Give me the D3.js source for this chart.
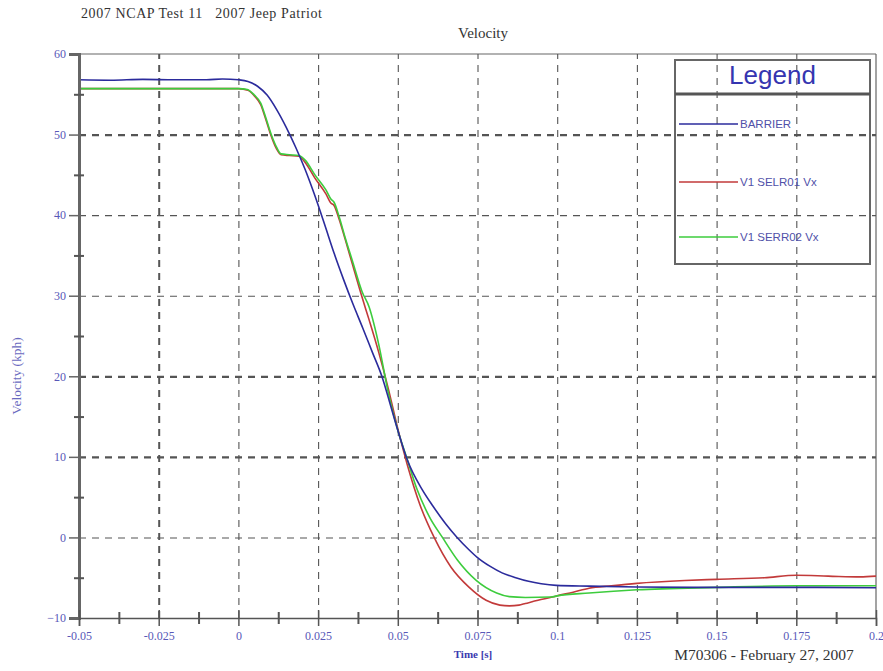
<!DOCTYPE html>
<html>
<head>
<meta charset="utf-8">
<script src="https://cdn.jsdelivr.net/npm/d3@7"></script>
<style>
	body { margin: 0; background: #fff; }
	svg { display: block; }
	.tick text { font-family: 'Liberation Serif', serif; font-size: 12px; fill: #5858b8; }
	.grid line { stroke: #555; stroke-dasharray: 7 6; }
	.grid path { display: none; }
</style>
</head>
<body>
<svg id="chart" width="883" height="671"></svg>
<script>
// x domain in seconds, y domain in kph
const xTicks = [-0.05, -0.025, 0, 0.025, 0.05, 0.075, 0.1, 0.125, 0.15, 0.175, 0.2];
const xMinor = [-0.0375, -0.0125, 0.0125, 0.0375, 0.0625, 0.0875, 0.1125, 0.1375, 0.1625, 0.1875];
const yTicks = [-10, 0, 10, 20, 30, 40, 50, 60];
const yMinor = [-5, 5, 15, 25, 35, 45, 55];
const boldGrid = [50, 20, 10];

const seriesNames = ['BARRIER', 'V1 SELR01 Vx', 'V1 SERR02 Vx'];
const seriesColors = ['#2b2b9c', '#c23a3a', '#3dcc3d'];

const barrier = [
	[-0.05, 56.8], [-0.04, 56.75], [-0.03, 56.85], [-0.02, 56.8], [-0.01, 56.8], [-0.005, 56.9],
	[0, 56.8], [0.003, 56.6], [0.006, 56.0], [0.009, 54.9], [0.012, 53.1], [0.015, 50.9],
	[0.018, 48.4], [0.021, 45.6], [0.024, 42.4], [0.027, 38.9], [0.03, 35.3], [0.033, 32.0],
	[0.036, 28.9], [0.039, 26.0], [0.042, 23.0], [0.045, 20.0], [0.048, 16.0], [0.05, 13.3],
	[0.053, 9.6], [0.0577, 5.9], [0.061, 3.9], [0.065, 1.7], [0.0686, 0.0], [0.072, -1.4],
	[0.075, -2.5], [0.079, -3.6], [0.0827, -4.4], [0.087, -5.0], [0.091, -5.45], [0.095, -5.75],
	[0.0997, -5.95], [0.11, -6.05], [0.125, -6.15], [0.15, -6.2], [0.175, -6.2], [0.2, -6.25]
];

const selr01 = [
	[-0.05, 55.7], [-0.03, 55.7], [-0.01, 55.7], [0, 55.7], [0.003, 55.5], [0.005, 54.8],
	[0.007, 53.7], [0.0085, 52.0], [0.0103, 49.8], [0.012, 48.2], [0.0134, 47.5], [0.016, 47.4],
	[0.019, 47.3], [0.021, 46.5], [0.024, 44.6], [0.0275, 42.6], [0.029, 41.5], [0.03, 41.2],
	[0.0316, 39.5], [0.0335, 37.0], [0.0357, 34.0], [0.0388, 29.8], [0.041, 27.0], [0.044, 23.0],
	[0.047, 18.5], [0.05, 13.5], [0.053, 9.0], [0.057, 4.0], [0.0614, 0.0], [0.0667, -3.7],
	[0.0724, -6.2], [0.0777, -7.8], [0.082, -8.4], [0.085, -8.5], [0.088, -8.4], [0.09, -8.2],
	[0.094, -7.8], [0.0985, -7.4], [0.1, -7.25], [0.105, -6.8], [0.11, -6.3], [0.117, -6.0],
	[0.125, -5.7], [0.14, -5.35], [0.15, -5.2], [0.165, -5.0], [0.175, -4.7], [0.185, -4.8],
	[0.195, -4.9], [0.2, -4.8]
];

const serr02 = [
	[-0.05, 55.7], [-0.03, 55.7], [-0.01, 55.7], [0, 55.7], [0.0028, 55.6], [0.005, 54.9],
	[0.007, 53.9], [0.0085, 52.2], [0.0103, 50.0], [0.012, 48.4], [0.0134, 47.6], [0.016, 47.5],
	[0.019, 47.4], [0.021, 46.8], [0.024, 45.0], [0.0275, 43.1], [0.029, 42.0], [0.03, 41.6],
	[0.0316, 39.8], [0.0335, 37.2], [0.0357, 34.4], [0.0388, 30.5], [0.041, 28.6], [0.044, 24.0],
	[0.047, 18.0], [0.05, 13.3], [0.0527, 10.0], [0.056, 6.0], [0.06, 2.5], [0.064, 0.0],
	[0.0687, -2.8], [0.0745, -5.3], [0.081, -6.9], [0.085, -7.35], [0.09, -7.45], [0.098, -7.4],
	[0.1, -7.25], [0.11, -6.9], [0.125, -6.5], [0.15, -6.2], [0.175, -6.0], [0.2, -6.0]
];

const margin = { top: 54, right: 7, bottom: 53, left: 79 };
const W = 883;
const H = 671;
const width = W - margin.left - margin.right;
const height = H - margin.top - margin.bottom;

const svg = d3.select('#chart');

const x = d3.scaleLinear().domain([-0.05, 0.2]).range([0, width]);
const y = d3.scaleLinear().domain([-10, 60]).range([height, 0]);

const g = svg.append('g').attr('transform', `translate(${margin.left},${margin.top})`);

// frame
g.append('line').attr('x1', 0).attr('x2', width).attr('y1', 0).attr('y2', 0)
	.attr('stroke', '#666').attr('stroke-width', 1.2);
g.append('line').attr('x1', width).attr('x2', width).attr('y1', 0).attr('y2', height)
	.attr('stroke', '#666').attr('stroke-width', 1.2);

// grid
g.append('g').attr('class', 'grid')
	.call(d3.axisLeft(y).tickValues(yTicks.filter(d => d > -10 && d < 60)).tickSize(-width).tickFormat(''))
	.selectAll('line')
	.attr('stroke-width', d => (boldGrid.includes(d) ? 2.2 : 1.1));

g.append('g').attr('class', 'grid')
	.attr('transform', `translate(0,${height})`)
	.call(d3.axisBottom(x).tickValues(xTicks.filter(d => d > -0.05 && d < 0.2)).tickSize(-height).tickFormat(''))
	.selectAll('line')
	.attr('stroke-width', d => (d === -0.025 ? 2 : 1.1));

// series
const line = d3.line()
	.x(d => x(d[0]))
	.y(d => y(d[1]))
	.curve(d3.curveMonotoneX);

const series = [barrier, selr01, serr02];
[1, 2, 0].forEach(i => {
	g.append('path')
		.datum(series[i])
		.attr('fill', 'none')
		.attr('stroke', seriesColors[i])
		.attr('stroke-width', 1.6)
		.attr('d', line);
});

// axes
const yAxis = g.append('g')
	.call(d3.axisLeft(y).tickValues(yTicks).tickSize(10).tickPadding(3).tickFormat(d3.format('d')));
yAxis.select('.domain').attr('stroke', '#666').attr('stroke-width', 3);
yAxis.selectAll('.tick line').attr('stroke', '#666').attr('stroke-width', 1.5);

g.append('g')
	.attr('transform', 'translate(5,0)')
	.call(d3.axisLeft(y).tickValues(yMinor).tickSize(10).tickFormat(''))
	.call(a => a.select('.domain').remove())
	.selectAll('line').attr('stroke', '#555').attr('stroke-width', 2);

const xAxis = g.append('g')
	.attr('transform', `translate(0,${height})`)
	.call(d3.axisBottom(x).tickValues(xTicks).tickSize(8).tickPadding(5).tickFormat(d => `${d}`));
xAxis.select('.domain').attr('stroke', '#555').attr('stroke-width', 1.5);
xAxis.selectAll('.tick line').attr('stroke', '#555').attr('stroke-width', 1.5)
	.attr('y1', -8);

g.append('g')
	.attr('transform', `translate(0,${height - 6})`)
	.call(d3.axisBottom(x).tickValues(xMinor).tickSize(12).tickFormat(''))
	.call(a => a.select('.domain').remove())
	.selectAll('line').attr('stroke', '#555').attr('stroke-width', 2);

// titles
svg.append('text').attr('x', 81).attr('y', 18)
	.attr('font-family', 'Liberation Serif, serif').attr('font-size', 14).attr('fill', '#333')
	.attr('letter-spacing', 0.6)
	.attr('xml:space', 'preserve')
	.text('2007 NCAP Test 11   2007 Jeep Patriot');

svg.append('text').attr('x', 483).attr('y', 38).attr('text-anchor', 'middle')
	.attr('font-family', 'Liberation Serif, serif').attr('font-size', 15).attr('fill', '#333')
	.text('Velocity');

svg.append('text')
	.attr('transform', 'translate(21,376) rotate(-90)')
	.attr('text-anchor', 'middle')
	.attr('font-family', 'Liberation Serif, serif').attr('font-size', 13.5).attr('fill', '#6a6ac0')
	.text('Velocity (kph)');

svg.append('text').attr('x', 473).attr('y', 658).attr('text-anchor', 'middle')
	.attr('font-family', 'Liberation Serif, serif').attr('font-size', 11).attr('font-weight', 'bold')
	.attr('fill', '#3a3ab0')
	.text('Time [s]');

svg.append('text').attr('x', 764).attr('y', 660).attr('text-anchor', 'middle')
	.attr('font-family', 'Liberation Serif, serif').attr('font-size', 15.5).attr('fill', '#333')
	.text('M70306 - February 27, 2007');

// legend
const lg = svg.append('g').attr('transform', 'translate(675,60)');
const lgW = 195;
const lgH = 204;
lg.append('rect').attr('width', lgW).attr('height', lgH)
	.attr('fill', '#fff').attr('fill-opacity', 0).attr('stroke', '#666').attr('stroke-width', 2);
lg.append('line').attr('x1', 0).attr('x2', lgW).attr('y1', 34).attr('y2', 34)
	.attr('stroke', '#555').attr('stroke-width', 3);
lg.append('text').attr('x', lgW / 2).attr('y', 24).attr('text-anchor', 'middle')
	.attr('font-family', 'Liberation Sans, Arial, sans-serif').attr('font-size', 26)
	.attr('fill', '#3535b0')
	.text('Legend');

const legendY = [64, 122, 177];
seriesNames.forEach((name, i) => {
	const row = lg.append('g').attr('transform', `translate(0,${legendY[i]})`);
	row.append('line').attr('x1', 4).attr('x2', 63).attr('y1', 0).attr('y2', 0)
		.attr('stroke', seriesColors[i]).attr('stroke-width', 1.3);
	row.append('text').attr('x', 65).attr('y', 4)
		.attr('font-family', 'Liberation Sans, Arial, sans-serif').attr('font-size', 11.5)
		.attr('fill', '#5050a8')
		.text(name);
});
</script>
</body>
</html>
